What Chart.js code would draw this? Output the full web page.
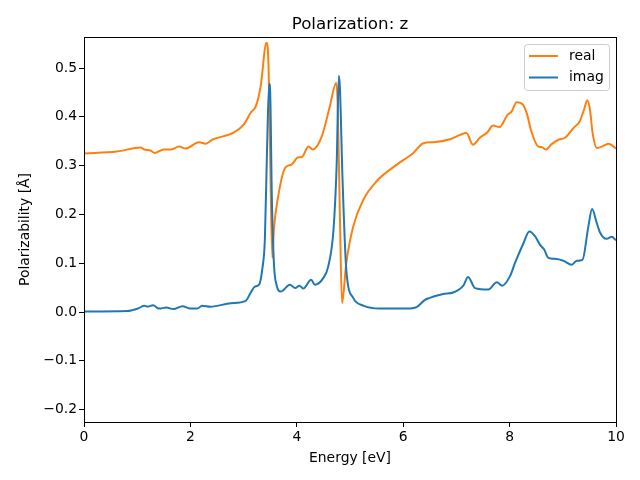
<!DOCTYPE html>
<html>
<head>
<meta charset="utf-8">
<script src="https://cdn.jsdelivr.net/npm/chart.js@4.4.0/dist/chart.umd.min.js"></script>
<style>
  html, body { margin: 0; padding: 0; background: #fff; }
  #wrap { width: 640px; height: 480px; }
</style>
</head>
<body>
<div id="wrap"><canvas id="polChart" width="640" height="480"></canvas></div>
<script>
// data
const energyReal = [0, 0.62, 1.07, 1.13, 1.25, 1.33, 1.50, 1.63, 1.79, 1.91, 2.16, 2.29, 2.41, 2.82, 3.01, 3.13, 3.23, 3.32, 3.43, 3.47, 3.51, 3.54, 3.57, 3.65, 3.78, 3.90, 4.03, 4.09, 4.22, 4.30, 4.47, 4.62, 4.74, 4.77, 4.81, 4.85, 4.93, 5.06, 5.25, 5.50, 5.88, 6.19, 6.38, 6.57, 6.88, 7.07, 7.19, 7.31, 7.44, 7.58, 7.69, 7.81, 7.96, 8.04, 8.13, 8.25, 8.32, 8.41, 8.54, 8.60, 8.68, 8.79, 8.92, 9.04, 9.20, 9.32, 9.40, 9.46, 9.51, 9.56, 9.64, 9.73, 9.86, 10];
const realValues = [0.325, 0.329, 0.337, 0.333, 0.331, 0.326, 0.333, 0.333, 0.339, 0.335, 0.348, 0.345, 0.353, 0.368, 0.385, 0.408, 0.422, 0.462, 0.552, 0.50, 0.25, 0.111, 0.17, 0.237, 0.295, 0.302, 0.317, 0.317, 0.339, 0.333, 0.360, 0.421, 0.470, 0.42, 0.20, 0.018, 0.100, 0.175, 0.230, 0.268, 0.302, 0.326, 0.346, 0.348, 0.354, 0.363, 0.367, 0.343, 0.357, 0.368, 0.382, 0.379, 0.404, 0.411, 0.430, 0.425, 0.408, 0.370, 0.339, 0.338, 0.333, 0.344, 0.353, 0.357, 0.377, 0.391, 0.415, 0.434, 0.415, 0.367, 0.336, 0.339, 0.345, 0.335];

const energyImag = [0, 0.81, 1.03, 1.13, 1.20, 1.30, 1.41, 1.55, 1.68, 1.85, 2.00, 2.13, 2.22, 2.38, 2.76, 3.04, 3.13, 3.21, 3.29, 3.35, 3.40, 3.44, 3.48, 3.50, 3.53, 3.57, 3.62, 3.70, 3.87, 3.97, 4.05, 4.12, 4.27, 4.34, 4.50, 4.59, 4.69, 4.75, 4.79, 4.81, 4.86, 4.93, 5.06, 5.25, 5.56, 6.07, 6.25, 6.41, 6.50, 6.75, 6.94, 7.13, 7.22, 7.35, 7.60, 7.76, 7.86, 8.01, 8.10, 8.26, 8.37, 8.48, 8.57, 8.65, 8.73, 8.85, 9.01, 9.17, 9.26, 9.37, 9.48, 9.55, 9.64, 9.70, 9.82, 9.92, 10];
const imagValues = [0.001, 0.002, 0.008, 0.013, 0.011, 0.014, 0.007, 0.009, 0.006, 0.012, 0.007, 0.007, 0.013, 0.011, 0.018, 0.023, 0.039, 0.052, 0.056, 0.087, 0.15, 0.33, 0.468, 0.45, 0.24, 0.10, 0.055, 0.042, 0.056, 0.049, 0.054, 0.048, 0.066, 0.056, 0.070, 0.093, 0.169, 0.305, 0.484, 0.46, 0.271, 0.087, 0.029, 0.013, 0.007, 0.007, 0.010, 0.025, 0.029, 0.037, 0.040, 0.054, 0.072, 0.049, 0.046, 0.061, 0.054, 0.074, 0.100, 0.141, 0.165, 0.155, 0.138, 0.128, 0.111, 0.109, 0.105, 0.097, 0.105, 0.107, 0.175, 0.211, 0.182, 0.163, 0.150, 0.154, 0.147];

const xTicks = [0, 2, 4, 6, 8, 10];
const yTicks = [-0.2, -0.1, 0.0, 0.1, 0.2, 0.3, 0.4, 0.5];

const seriesNames = ['real', 'imag'];
const seriesColors = ['#ff7f0e', '#1f77b4'];

const FONT = "'DejaVu Sans', sans-serif";

function toPoints(xs, ys) {
  return xs.map((x, i) => ({ x: x, y: ys[i] }));
}

// frame, title and legend drawn like matplotlib
const mplExtras = {
  id: 'mplExtras',
  afterDatasetsDraw(chart) {
    const { ctx, chartArea: a } = chart;
    ctx.save();
    ctx.strokeStyle = '#000';
    ctx.lineWidth = 1;
    ctx.strokeRect(Math.round(a.left) + 0.5, Math.round(a.top) + 0.5,
                   Math.round(a.right - a.left), Math.round(a.bottom - a.top));

    // title
    ctx.fillStyle = '#000';
    ctx.font = '16.7px ' + FONT;
    ctx.textAlign = 'center';
    ctx.textBaseline = 'alphabetic';
    ctx.fillText('Polarization: z', (a.left + a.right) / 2, a.top - 8.5);

    // legend
    const bx = a.right - 92, by = a.top + 7, bw = 85, bh = 46;
    ctx.beginPath();
    ctx.roundRect(bx + 0.5, by + 0.5, bw, bh, 3);
    ctx.fillStyle = 'rgba(255,255,255,0.8)';
    ctx.fill();
    ctx.strokeStyle = '#cccccc';
    ctx.stroke();
    ctx.font = '13.9px ' + FONT;
    ctx.textAlign = 'left';
    ctx.textBaseline = 'middle';
    seriesNames.forEach((name, i) => {
      const ly = by + 12 + i * 21.5;
      ctx.beginPath();
      ctx.moveTo(bx + 5, ly);
      ctx.lineTo(bx + 34, ly);
      ctx.strokeStyle = seriesColors[i];
      ctx.lineWidth = 2;
      ctx.stroke();
      ctx.fillStyle = '#000';
      ctx.fillText(name, bx + 45, ly);
    });
    ctx.restore();
  }
};

const ctx = document.getElementById('polChart').getContext('2d');
const polChart = new Chart(ctx, {
  type: 'line',
  data: {
    datasets: [{
      label: seriesNames[0],
      data: toPoints(energyReal, realValues),
      borderColor: seriesColors[0],
      borderWidth: 2,
      pointRadius: 0,
      cubicInterpolationMode: 'monotone',
      order: 1
    }, {
      label: seriesNames[1],
      data: toPoints(energyImag, imagValues),
      borderColor: seriesColors[1],
      borderWidth: 2,
      pointRadius: 0,
      cubicInterpolationMode: 'monotone',
      order: 0
    }]
  },
  options: {
    responsive: false,
    animation: false,
    layout: { padding: { top: 37, right: 24, bottom: 0, left: 0 } },
    plugins: {
      legend: { display: false },
      title: { display: false },
      tooltip: { enabled: false }
    },
    scales: {
      x: {
        type: 'linear',
        min: 0,
        max: 10,
        afterBuildTicks: s => { s.ticks = xTicks.map(v => ({ value: v })); },
        afterFit: s => { s.height = 58; },
        ticks: {
          color: '#000',
          font: { family: FONT, size: 13.9 },
          padding: 2,
          maxRotation: 0,
          callback: v => String(v)
        },
        grid: { drawOnChartArea: false, drawTicks: true, tickLength: 5, color: '#000' },
        border: { display: true, color: '#000' },
        title: {
          display: true,
          text: 'Energy [eV]',
          color: '#000',
          font: { family: FONT, size: 13.9 },
          padding: { top: 0, bottom: 13 }
        }
      },
      y: {
        type: 'linear',
        min: -0.2254,
        max: 0.5636,
        afterBuildTicks: s => { s.ticks = yTicks.map(v => ({ value: v })); },
        afterFit: s => { s.width = 84; },
        ticks: {
          color: '#000',
          font: { family: FONT, size: 13.9 },
          padding: 2,
          callback: v => v.toFixed(1).replace('-', '\u2212')
        },
        grid: { drawOnChartArea: false, drawTicks: true, tickLength: 5, color: '#000' },
        border: { display: true, color: '#000' },
        title: {
          display: true,
          text: 'Polarizability [Å]',
          color: '#000',
          font: { family: FONT, size: 13.9 },
          padding: { top: 17, bottom: 0 }
        }
      }
    }
  },
  plugins: [mplExtras]
});
</script>
</body>
</html>
